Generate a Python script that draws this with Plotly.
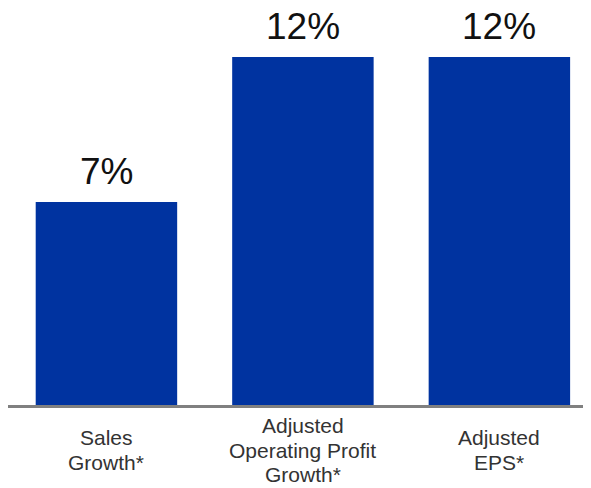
import plotly.graph_objects as go

categories = ["Sales<br>Growth*", "Adjusted<br>Operating Profit<br>Growth*", "Adjusted<br>EPS*"]
values = [7, 12, 12]
value_labels = ["7%", "12%", "12%"]

x = list(range(len(categories)))
bar_color = "#0033A0"

fig = go.Figure(go.Bar(x=x, y=values, marker=dict(color=bar_color, line=dict(width=0)),
                       width=0.72, hoverinfo="skip"))

ann = []
for xi, v, t in zip(x, values, value_labels):
    ann.append(dict(x=xi, y=v, xref="x", yref="y", text=t, showarrow=False,
                    yanchor="bottom", yshift=8,
                    font=dict(family="Liberation Sans, Arial", size=37, color="#111111")))

line_gap = 24.5
for xi, c in zip(x, categories):
    lines = c.split("<br>")
    n = len(lines)
    for i, ln in enumerate(lines):
        ann.append(dict(x=xi, y=0, xref="x", yref="paper",
                        yshift=-(45 + (i - (n - 1) / 2) * line_gap),
                        text=ln, showarrow=False, yanchor="middle",
                        font=dict(family="Liberation Sans, Arial", size=21, color="#333333")))

fig.update_layout(
    width=591, height=488,
    margin=dict(l=0, r=0, t=2, b=91),
    plot_bgcolor="white", paper_bgcolor="white",
    showlegend=False,
    xaxis=dict(range=[-0.501, 2.507], showticklabels=False, showgrid=False, zeroline=False,
               showline=True, linecolor="#808080", linewidth=3, ticks=""),
    yaxis=dict(range=[0, 13.62], visible=False, showgrid=False, zeroline=False),
    annotations=ann,
)
fig.write_html("out.html")
